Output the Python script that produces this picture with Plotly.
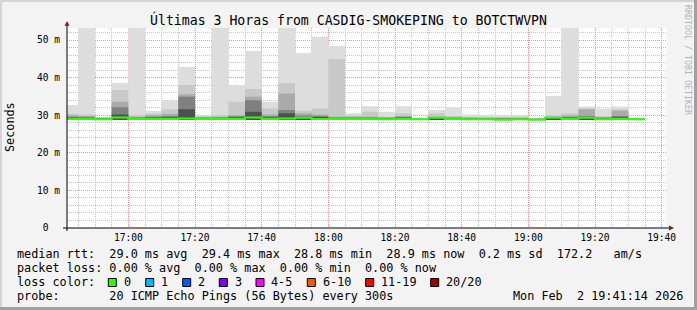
import plotly.graph_objects as go
import pandas as pd

# ---------------- data ----------------
step_start = pd.date_range("2026-02-02 16:40", periods=35, freq="5min")

median_rtt = [29.0, 29.0, 28.9, 29.4, 29.0, 29.0, 29.0, 29.1, 29.0, 29.0,
              29.0, 29.4, 29.0, 29.1, 29.3, 29.0, 29.0, 29.0, 29.0, 28.9,
              29.0, 28.9, 29.3, 29.0, 28.9, 28.9, 28.8, 28.9, 28.8, 29.3,
              29.0, 29.3, 28.9, 29.0, 28.9]
ping_min = [28.7] * 35
smoke_max = [32.7, 54.0, 29.6, 38.6, 54.0, 31.1, 33.9, 42.8, 30.0, 54.0,
             37.9, 47.1, 33.6, 54.0, 46.5, 50.9, 48.4, 30.5, 32.4, 30.9,
             32.4, 29.2, 31.4, 32.1, 30.2, 29.9, 30.0, 29.9, 29.3, 35.1,
             54.0, 32.3, 31.8, 32.3, 29.3]
smoke_b2 = [30.4, 30.2, 29.4, 36.7, 30.0, 30.4, 31.6, 38.0, 29.7, 30.0,
            33.6, 37.0, 31.8, 38.5, 31.2, 31.8, 44.9, 29.9, 30.9, 29.6,
            30.5, 29.1, 30.5, 29.8, 29.6, 29.5, 29.5, 29.5, 29.2, 30.0,
            30.5, 31.8, 29.8, 31.6, 29.2]
smoke_b3 = [30.0, 29.8, 29.3, 33.6, 29.6, 30.0, 30.4, 35.6, 29.5, 29.6,
            30.0, 34.9, 30.2, 35.8, 30.5, 30.2, 29.6, 29.6, 29.6, 29.4,
            29.8, 29.0, 29.6, 29.5, 29.4, 29.3, 29.3, 29.3, 29.1, 29.6,
            29.9, 31.6, 29.5, 31.2, 29.1]
smoke_b4 = [29.6, 29.5, 29.2, 32.1, 29.4, 29.6, 29.8, 34.9, 29.3, 29.4,
            29.7, 34.0, 29.7, 31.4, 29.9, 29.8, 29.4, 29.4, 29.4, 29.3,
            29.5, 29.0, 29.4, 29.3, 29.2, 29.2, 29.2, 29.1, 29.0, 29.4,
            29.5, 29.8, 29.3, 29.8, 29.0]
smoke_b5 = [29.3, 29.2, 29.1, 30.2, 29.2, 29.3, 29.4, 31.6, 29.2, 29.2,
            29.4, 30.9, 29.4, 30.5, 29.5, 29.5, 29.2, 29.2, 29.2, 29.1,
            29.3, 28.95, 29.3, 29.2, 29.1, 29.0, 29.0, 29.0, 28.95, 29.3,
            29.3, 29.4, 29.2, 29.4, 28.95]

y_tick_vals = [0, 10, 20, 30, 40, 50]
y_tick_text = ["0\u00a0\u00a0", "10 m", "20 m", "30 m", "40 m", "50 m"]

title_text = "Últimas 3 Horas from CASDIG-SMOKEPING to BOTCTWVPN"
legend_lines = [
    "median rtt:  29.0 ms avg  29.4 ms max  28.8 ms min  28.9 ms now  0.2 ms sd  172.2   am/s",
    "packet loss: 0.00 % avg  0.00 % max  0.00 % min  0.00 % now",
    "loss color:",
    "probe:       20 ICMP Echo Pings (56 Bytes) every 300s",
]
loss_labels = ["0", "1", "2", "3", "4-5", "6-10", "11-19", "20/20"]
loss_colors = ["#26ff00", "#00b8ff", "#0059ff", "#7e00ff", "#ff00ff",
               "#ff5500", "#ff0000", "#a10000"]
date_text = "Mon Feb  2 19:41:14 2026"

# ---------------- geometry helpers ----------------
WIDTH, HEIGHT = 697, 310
L, T, W, H = 67, 28, 600, 200
MONO = "DejaVu Sans Mono"


def px(x):
    return (x - L) / W


def py(y):
    return (T + H - y) / H


def nb(s):
    return s.replace(" ", "\u00a0")


x_steps = list(step_start) + [step_start[-1] + pd.Timedelta(minutes=5)]


def ext(v):
    return list(v) + [v[-1]]


fig = go.Figure()
bands = [(smoke_max, "#dddddd"), (smoke_b2, "#c8c8c8"), (smoke_b3, "#aaaaaa"),
         (smoke_b4, "#808080"), (smoke_b5, "#505050")]
for top, col in bands:
    fig.add_trace(go.Scatter(x=x_steps, y=ext(ping_min), mode="lines",
                             line=dict(width=0, shape="hv"), showlegend=False,
                             hoverinfo="skip"))
    fig.add_trace(go.Scatter(x=x_steps, y=ext(top), mode="lines",
                             line=dict(width=0, shape="hv"), fill="tonexty",
                             fillcolor=col, showlegend=False, hoverinfo="skip"))
fig.add_trace(go.Scatter(x=x_steps, y=ext(median_rtt), mode="lines",
                         line=dict(width=2, shape="hv", color="#26ff00"),
                         showlegend=False))

major_grid = "rgb(240,150,150)"
minor_grid = "rgb(200,200,200)"
dash = "1px,1px"

fig.update_layout(
    width=WIDTH, height=HEIGHT, autosize=False,
    margin=dict(l=L, r=WIDTH - L - W, t=T, b=HEIGHT - T - H, pad=0),
    paper_bgcolor="#f3f3f3", plot_bgcolor="#ffffff",
    showlegend=False,
    xaxis=dict(type="date",
               range=["2026-02-02 16:41:36", "2026-02-02 19:41:36"],
               tick0="2026-02-02 17:00", dtick=20 * 60 * 1000,
               tickformat="%H:%M", showgrid=True, gridcolor=major_grid,
               griddash=dash, gridwidth=1, zeroline=False, showline=False,
               ticks="", tickfont=dict(family=MONO, size=9.6, color="#000"),
               ticklabelstandoff=2,
               minor=dict(dtick=5 * 60 * 1000, tick0="2026-02-02 17:00",
                          showgrid=True, gridcolor=minor_grid,
                          griddash=dash, gridwidth=1, ticks="")),
    yaxis=dict(range=[0, H / 3.76], tickvals=y_tick_vals, ticktext=y_tick_text,
               showgrid=True, gridcolor=major_grid, griddash=dash, gridwidth=1,
               zeroline=False, showline=False, ticks="",
               tickfont=dict(family=MONO, size=9.6, color="#000"),
               ticklabelstandoff=6,
               minor=dict(dtick=2, showgrid=True, gridcolor=minor_grid,
                          griddash=dash, gridwidth=1, ticks="")),
)

shapes = []
# frame
shapes.append(dict(type="rect", xref="paper", yref="paper", x0=px(0), x1=px(697),
                   y0=py(0), y1=py(2), fillcolor="#d4d4d4", line=dict(width=0)))
shapes.append(dict(type="rect", xref="paper", yref="paper", x0=px(0), x1=px(2),
                   y0=py(0), y1=py(310), fillcolor="#d4d4d4", line=dict(width=0)))
shapes.append(dict(type="rect", xref="paper", yref="paper", x0=px(694), x1=px(697),
                   y0=py(0), y1=py(310), fillcolor="#a0a0a0", line=dict(width=0)))
shapes.append(dict(type="rect", xref="paper", yref="paper", x0=px(0), x1=px(697),
                   y0=py(307), y1=py(310), fillcolor="#a0a0a0", line=dict(width=0)))
# axes
shapes.append(dict(type="line", xref="paper", yref="paper", x0=px(63), x1=px(670),
                   y0=py(228), y1=py(228), line=dict(color="#000000", width=1)))
shapes.append(dict(type="line", xref="paper", yref="paper", x0=px(67), x1=px(67),
                   y0=py(231), y1=py(24), line=dict(color="#000000", width=1)))
# arrows
shapes.append(dict(type="path", xref="paper", yref="paper",
                   path=f"M {px(64.5)} {py(25.7)} L {px(69.5)} {py(25.7)} L {px(67)} {py(21)} Z",
                   fillcolor="#8b1a1a", line=dict(width=0)))
shapes.append(dict(type="path", xref="paper", yref="paper",
                   path=f"M {px(669)} {py(225.5)} L {px(669)} {py(230.5)} L {px(674)} {py(228)} Z",
                   fillcolor="#8b1a1a", line=dict(width=0)))

# loss colour boxes
box_left = [108.3, 145.7, 182.7, 219.3, 256.0, 307.3, 365.7, 430.7]
for bx, col in zip(box_left, loss_colors):
    shapes.append(dict(type="rect", xref="paper", yref="paper",
                       x0=px(bx), x1=px(bx + 8), y0=py(278.5), y1=py(286.5),
                       fillcolor=col, line=dict(color="#000000", width=1)))
fig.update_layout(shapes=shapes)

ann = []
ann.append(dict(text=nb(title_text), x=px(348), y=py(19), xref="paper", yref="paper",
                xanchor="center", yanchor="middle", showarrow=False,
                font=dict(family=MONO, size=13.2, color="#000")))
ann.append(dict(text="Seconds", x=px(10), y=py(127), xref="paper", yref="paper",
                xanchor="center", yanchor="middle", showarrow=False, textangle=-90,
                font=dict(family=MONO, size=11.8, color="#000")))
ann.append(dict(text=nb("RRDTOOL / TOBI OETIKER"), x=px(688), y=py(60), xref="paper",
                yref="paper", xanchor="center", yanchor="middle", showarrow=False,
                textangle=90, font=dict(family=MONO, size=8.3, color="#b4b4b4")))
for i, line in enumerate(legend_lines):
    ann.append(dict(text=nb(line), x=px(16), y=py(254.3 + 14 * i), xref="paper",
                    yref="paper", xanchor="left", yanchor="middle", showarrow=False,
                    borderpad=0, font=dict(family=MONO, size=11.8, color="#000")))
for bx, lab in zip(box_left, loss_labels):
    ann.append(dict(text=lab, x=px(bx + 14.4), y=py(282.3), xref="paper",
                    yref="paper", xanchor="left", yanchor="middle", showarrow=False,
                    borderpad=0, font=dict(family=MONO, size=11.8, color="#000")))
ann.append(dict(text=nb(date_text), x=px(512.3), y=py(296.3), xref="paper",
                yref="paper", xanchor="left", yanchor="middle", showarrow=False,
                borderpad=0, font=dict(family=MONO, size=11.8, color="#000")))
fig.update_layout(annotations=ann)

fig.write_html("out.html", config={"displayModeBar": False})
